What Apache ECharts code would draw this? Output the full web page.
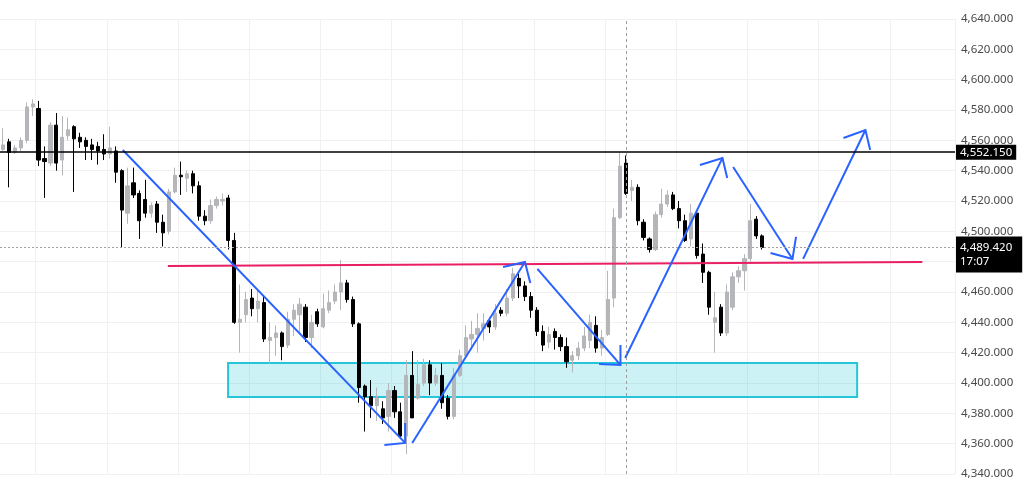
<!DOCTYPE html>
<html><head><meta charset="utf-8">
<script src="https://cdn.jsdelivr.net/npm/echarts@6/dist/echarts.min.js"></script>
<style>html,body{margin:0;padding:0;background:#fff}#c{width:1024px;height:483px}</style>
</head><body><div id="c"></div>
<script>
// candle values (index order, left to right)
const opens  = [4554,4559,4552,4555,4560,4582,4581,4548,4545,4570,4547,4563,4569,4562,4560,4557,4556,4554,4551,4553,
4540,4512,4532,4525,4521,4512,4518,4506,4500,4526,4537,4535,4538,4530,4510,4507,4517,4520,4522,4494,
4440,4445,4456,4449,4453,4428,4430,4433,4425,4442,4445,4450,4430,4447,4437,4448,4454,4460,4466,4455,
4439,4398,4391,4385,4383,4378,4395,4381,4365,4405,4390,4400,4412,4400,4405,4390,4378,4405,4418,4429,
4432,4436,4441,4437,4448,4446,4456,4469,4464,4457,4448,4434,4427,4434,4430,4424,4415,4418,4423,4428,
4438,4423,4432,4456,4509,4545,4527,4529,4506,4495,4488,4511,4518,4524,4515,4507,4495,4512,4485,4473,
4440,4450,4433,4450,4470,4474,4482,4508,4497];
const closes = [4557,4552,4555,4560,4582,4584,4547,4546,4570,4545,4562,4567,4561,4559,4556,4554,4553,4551,4555,4539,
4514,4530,4524,4507,4512,4517,4506,4499,4526,4537,4536,4538,4530,4510,4507,4517,4521,4521,4494,4440,
4442,4455,4449,4454,4429,4430,4433,4424,4442,4448,4452,4430,4440,4439,4449,4453,4460,4466,4455,4439,
4397,4391,4385,4390,4377,4395,4381,4365,4405,4377,4399,4412,4400,4405,4387,4378,4405,4418,4430,4432,
4436,4439,4437,4446,4446,4456,4472,4464,4457,4448,4434,4425,4432,4430,4424,4414,4418,4423,4431,4440,
4423,4430,4455,4509,4543,4525,4529,4507,4496,4488,4511,4518,4524,4515,4507,4494,4512,4484,4473,4450,
4443,4433,4460,4470,4474,4482,4507,4497,4489.42];
const lows   = [4553,4529,4551,4553,4558,4576,4543,4522,4543,4540,4537,4560,4526,4555,4547,4547,4544,4547,4548,4532,
4489,4505,4522,4495,4509,4509,4499,4490,4498,4525,4524,4526,4525,4507,4504,4505,4515,4517,4488,4439,
4420,4440,4444,4440,4427,4413,4418,4415,4423,4431,4432,4427,4423,4437,4436,4446,4452,4448,4453,4437,
4387,4368,4377,4375,4373,4368,4377,4364,4353,4377,4389,4398,4392,4398,4383,4376,4376,4404,4416,4422,
4420,4428,4433,4435,4444,4444,4454,4456,4454,4443,4431,4421,4423,4422,4421,4410,4407,4415,4421,4423,
4420,4418,4431,4450,4508,4524,4520,4504,4494,4486,4487,4509,4516,4514,4502,4493,4490,4482,4466,4445,
4420,4431,4431,4448,4466,4461,4480,4495,4488];
const highs  = [4568,4561,4557,4562,4585,4587,4586,4556,4572,4578,4576,4575,4570,4565,4562,4561,4559,4564,4569,4556,
4541,4542,4542,4527,4534,4519,4520,4511,4528,4542,4546,4540,4540,4533,4514,4521,4523,4525,4524,4499,
4465,4460,4462,4461,4458,4440,4438,4434,4447,4452,4456,4452,4445,4449,4459,4461,4465,4481,4468,4457,
4440,4399,4402,4397,4388,4400,4398,4387,4415,4421,4415,4416,4415,4410,4413,4392,4410,4422,4438,4441,
4446,4446,4443,4452,4450,4462,4476,4472,4467,4460,4450,4438,4437,4436,4432,4430,4421,4427,4437,4445,
4444,4435,4474,4515,4552,4550,4534,4531,4508,4496,4513,4528,4527,4526,4520,4511,4518,4514,4492,4474,
4460,4452,4465,4473,4477,4485,4518,4510,4498];

// axis / levels
const totalSlots = 161;
const yMin = 4340, yMax = 4640, yStep = 20;
const resistance = 4552.15;
const lastPrice = 4489.42;
const lastTime = '17:07';
const crosshairIndex = 105;

// drawings in (slot index, price)
const neckline = [[27.8, 4477.2], [155.0, 4479.8]];
const zoneX = [37.95, 144.0];
const zoneY = [4390.8, 4413.2];
const arrowTails = [[20.2,4553.6],[69.0,4360.5],[90.1,4475.2],[104.9,4416.5],[123.1,4542.4],[134.9,4481.8]];
const arrowTips  = [[67.8,4360.5],[88.0,4479.8],[104.1,4411.9],[121.3,4548.4],[133.1,4481.8],[145.4,4566.8]];
const arrowBarbA = [[64.3,4359.1],[84.3,4476.5],[100.5,4412.5],[117.5,4543.7],[129.4,4485.7],[141.7,4561.5]];
const arrowBarbB = [[67.8,4373.6],[88.9,4466.0],[104.1,4425.1],[122.1,4535.2],[133.7,4496.3],[146.2,4553.6]];

const categories = [];
for (let i = 0; i < totalSlots; i++) categories.push(String(i));
const candles = opens.map((o, i) => [o, closes[i], lows[i], highs[i]]);

function fmt(v, d) {
  const s = v.toFixed(d);
  const p = s.split('.');
  return p[0].replace(/\B(?=(\d{3})+(?!\d))/g, ',') + (p[1] ? '.' + p[1] : '');
}

const blue = '#2962ff';
const series = [{
  type: 'candlestick',
  xAxisIndex: 0, yAxisIndex: 0,
  data: candles,
  barWidth: '62%',
  itemStyle: { color: '#b4b6ba', color0: '#000000', borderColor: '#b4b6ba', borderColor0: '#000000', borderWidth: 1 },
  markLine: {
    symbol: 'none', silent: true, animation: false, z: 10,
    data: [
      { yAxis: resistance, lineStyle: { color: '#000', width: 1.6, type: 'solid' },
        label: { show: true, position: 'end', distance: 1, formatter: fmt(resistance, 3),
          backgroundColor: '#000', color: '#fff', fontSize: 11.5, fontFamily: 'Noto Sans', padding: [2, 4, 1, 4] } },
      { yAxis: lastPrice, lineStyle: { color: '#9e9e9e', width: 1, type: [2, 2] },
        label: { show: true, position: 'end', distance: 1, formatter: fmt(lastPrice, 3) + '\n' + lastTime,
          backgroundColor: '#000', color: '#fff', fontSize: 11.5, fontFamily: 'Noto Sans', padding: [4, 10, 4, 4], lineHeight: 14, align: 'left',
          offset: [0, 7] } },
      { xAxis: String(crosshairIndex), lineStyle: { color: '#9e9e9e', width: 1, type: [3, 3] }, label: { show: false } }
    ]
  }
}];

series.push({
  type: 'line', xAxisIndex: 1, yAxisIndex: 0, data: neckline, symbol: 'none', silent: true,
  lineStyle: { color: '#e91e63', width: 2 }, z: 5,
  markArea: {
    silent: true,
    itemStyle: { color: 'rgba(0,188,212,0.2)', borderColor: '#26c6da', borderWidth: 2 },
    data: [[{ xAxis: zoneX[0], yAxis: zoneY[0] }, { xAxis: zoneX[1], yAxis: zoneY[1] }]]
  }
});
for (let k = 0; k < arrowTips.length; k++) {
  series.push({ type: 'line', xAxisIndex: 1, yAxisIndex: 0, data: [arrowTails[k], arrowTips[k]], symbol: 'none', silent: true, z: 6,
    lineStyle: { color: blue, width: 2 } });
  series.push({ type: 'line', xAxisIndex: 1, yAxisIndex: 0, data: [arrowBarbA[k], arrowTips[k], arrowBarbB[k]], symbol: 'none', silent: true, z: 6,
    lineStyle: { color: blue, width: 2, join: 'miter' } });
}

const chart = echarts.init(document.getElementById('c'), null, { renderer: 'canvas' });
chart.setOption({
  animation: false,
  backgroundColor: '#fff',
  grid: { left: 0, right: 69, top: 19, bottom: 9, containLabel: false },
  xAxis: [
    { type: 'category', data: categories, boundaryGap: true,
      axisLine: { show: false }, axisTick: { show: false }, axisLabel: { show: false },
      splitLine: { show: true, interval: (i) => i % 12 === 6, lineStyle: { color: '#f1f1f1', width: 1 } } },
    { type: 'value', min: -0.5, max: totalSlots - 0.5, show: false }
  ],
  yAxis: [{
    type: 'value', position: 'right', min: yMin, max: yMax, interval: yStep, scale: true,
    axisLine: { show: false }, axisTick: { show: false },
    axisLabel: { margin: 6, color: '#4a4a4a', fontSize: 11.5, fontFamily: 'Noto Sans',
      formatter: (v) => (v === 4480 ? '' : fmt(v, 3)) },
    splitLine: { show: true, lineStyle: { color: '#f1f1f1' } }
  }],
  series: series
});
</script></body></html>
